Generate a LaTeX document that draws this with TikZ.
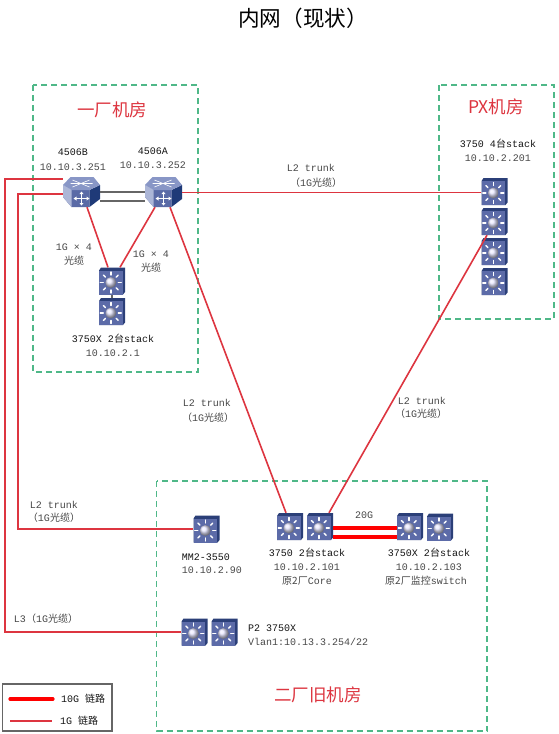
\documentclass[tikz,border=0pt]{standalone}
\usepackage{fontspec}
\setmainfont{Liberation Mono}
\newfontfamily\cjk{Noto Sans CJK SC}
\newcommand{\zh}[1]{{\cjk #1}}
\definecolor{boxgreen}{HTML}{4FB888}
\definecolor{linkred}{HTML}{DD3540}
\definecolor{labelgrey}{HTML}{484848}
\definecolor{labeldark}{HTML}{151515}
\definecolor{swface}{HTML}{5C6BA8}
\definecolor{swdark}{HTML}{2B3F78}
\definecolor{chtop}{HTML}{8896C6}
\definecolor{chfront}{HTML}{5A6AA6}
\definecolor{chside}{HTML}{1F3A78}
\newcommand{\swdraw}{%
  \begin{scope}[shift={(path picture bounding box.center)}]
    \fill[swdark] (-13,-10.5) -- (-11,-13.5) -- (13,-13.5) -- (13,11) -- (11,13.5) -- (-13,13.5) -- cycle;
    \fill[swface] (-13,-10.5) rectangle (10.5,13.5);
    \foreach \a in {0,45,...,315}{
      \draw[white,line width=1.4pt,line cap=round] ({-1.2+7.5*cos(\a)},{1.5+7.5*sin(\a)}) -- ({-1.2+10.5*cos(\a)},{1.5+10.5*sin(\a)});
    }
    \shade[ball color=blue!10!white] (-1.2,1.5) circle (5.5);
  \end{scope}}
\newcommand{\chdraw}{%
  \begin{scope}[shift={(path picture bounding box.center)}]
    \fill[chfront] (-18.5,-7) -- (-18.5,5) -- (-10,15) -- (8,15) -- (8,-2) -- (-10,-2) -- cycle;
    \fill[chside] (8,-2) -- (18.5,-7) -- (18.5,7) -- (8,15) -- cycle;
    \fill[chtop] (-11,-15) -- (12,-15) -- (18.5,-7) -- (8,-2) -- (-10,-2) -- (-18.5,-7) -- cycle;
    \fill[chtop!70!white] (-18.5,-7) -- (-10,-2) -- (-10,15) -- (-18.5,5) -- cycle;
    \draw[white,line width=.6pt] (-9,-12) -- (8,-5) (8,-12) -- (-9,-5) (-11,-8.5) -- (11,-8.5);
    \draw[white,line width=1.1pt] (-6,6.5) -- (6,6.5) (0,1) -- (0,12);
    \fill[white] (-8,6.5) -- (-5,4.5) -- (-5,8.5) -- cycle (8,6.5) -- (5,4.5) -- (5,8.5) -- cycle
      (0,-.5) -- (-2,2) -- (2,2) -- cycle (0,13.5) -- (-2,11) -- (2,11) -- cycle;
  \end{scope}}
\tikzset{
  x=1pt,y=-1pt,
  swbox/.style={inner sep=0pt,minimum width=26pt,minimum height=27pt,path picture={\swdraw}},
  chassis/.style={inner sep=0pt,minimum width=37pt,minimum height=30pt,path picture={\chdraw}},
  room/.style={draw=boxgreen,line width=1.4pt,dash pattern=on 6pt off 4pt,fill=none},
  redlink/.style={draw=linkred,line width=1.6pt},
  fatlink/.style={draw=red,line width=3.2pt},
  greylink/.style={draw=black!60,line width=1.2pt},
  lab/.style={font=\fontsize{10}{11}\selectfont,text=labelgrey,inner sep=0pt},
  labd/.style={font=\fontsize{10}{11}\selectfont,text=labeldark,inner sep=0pt},
  roomlab/.style={font=\fontsize{17.5}{19}\selectfont,text=linkred,inner sep=0pt},
}
\begin{document}
\begin{tikzpicture}
\useasboundingbox (0,0) rectangle (558,734);
\fill[white] (0,0) rectangle (558,734);
% rooms
\draw[room] (33,85) rectangle (198,372);
\draw[room] (439,85) rectangle (554,319);
\draw[room] (156.5,481) rectangle (487,731);
% devices
\node[chassis] (b) at (81.5,192) {};
\node[chassis] (a) at (163.5,192) {};
\node[swbox] (s1) at (112,281) {};
\node[swbox] (s2) at (112,311.5) {};
\node[swbox] (px1) at (494.5,191.5) {};
\node[swbox] (px2) at (494.5,221.5) {};
\node[swbox] (px3) at (494.5,251.5) {};
\node[swbox] (px4) at (494.5,281.5) {};
\node[swbox] (c1) at (290,526.5) {};
\node[swbox] (c2) at (320,526.5) {};
\node[swbox] (t1) at (410,526.5) {};
\node[swbox] (t2) at (440,527) {};
\node[swbox] (m) at (206.5,529) {};
\node[swbox] (p1) at (194.5,632) {};
\node[swbox] (p2) at (224.5,632) {};
% free corners
\coordinate (cornerA) at (5,632);
\coordinate (cornerB) at (18,529);
% links
\draw[greylink] (b.east) -- (a.west);
\draw[greylink] ([yshift=-9pt]b.east) -- ([yshift=-9pt]a.west);
\draw[greylink] (s1.south) -- (s2.north);
\draw[redlink] ([yshift=13pt]b.west) -| (cornerA) -- (p1.west);
\draw[redlink] ([yshift=-2pt]b.west) -| (cornerB) -- (m.west);
\draw[redlink] ([xshift=5.5pt]b.south) -- ([xshift=-4pt]s1.north);
\draw[redlink] ([xshift=-8.5pt]a.south) -- ([xshift=8pt]s1.north);
\draw[redlink] ([xshift=6.5pt]a.south) -- ([xshift=-4pt]c1.north);
\draw[redlink] ([yshift=-.5pt]a.east) -- ([yshift=-1pt]px1.west);
\draw[redlink] ([xshift=9pt]c2.north) -- ([xshift=-7.5pt]px2.south);
\draw[fatlink] ([yshift=-1.5pt]c2.east) -- ([yshift=-1.5pt]t1.west);
\draw[fatlink] ([yshift=-10.5pt]c2.east) -- ([yshift=-10.5pt]t1.west);
% title and rooms
\node[font=\fontsize{21.6}{24}\selectfont,text=black,inner sep=0pt] (title) at (303,18) {\zh{内网（现状）}};
\node[roomlab] (r1) at (112,110) {\zh{一厂机房}};
\node[roomlab] (r2) at (496,107) {\zh{PX机房}};
\node[roomlab] (r3) at (318,695) {\zh{二厂旧机房}};
% device labels
\node[labd] (l1) at (73,152) {4506B};
\node[lab] (l2) at (73,167) {10.10.3.251};
\node[labd] (l3) at (153,151) {4506A};
\node[lab] (l4) at (153,165) {10.10.3.252};
\node[lab] (l5) at (74,247) {1G × 4};
\node[lab] (l6) at (74,261) {\zh{光缆}};
\node[lab] (l7) at (151,254) {1G × 4};
\node[lab] (l8) at (151,268) {\zh{光缆}};
\node[labd] (l9) at (113,339) {3750X 2\zh{台}stack};
\node[lab] (l10) at (113,353) {10.10.2.1};
\node[labd] (l11) at (498,144) {3750 4\zh{台}stack};
\node[lab] (l12) at (498,158) {10.10.2.201};
\node[lab] (l13) at (311,168) {L2 trunk};
\node[lab] (l14) at (316,183) {\zh{（}1G\zh{光缆）}};
\node[lab] (l15) at (207,403) {L2 trunk};
\node[lab] (l16) at (208,418) {\zh{（}1G\zh{光缆）}};
\node[lab] (l17) at (422,401) {L2 trunk};
\node[lab] (l18) at (421,414) {\zh{（}1G\zh{光缆）}};
\node[lab] (l19) at (54,505) {L2 trunk};
\node[lab] (l20) at (54,518) {\zh{（}1G\zh{光缆）}};
\node[lab] (l21) at (46,619) {L3\zh{（}1G\zh{光缆）}};
\node[labd] (l22) at (206,557) {MM2-3550};
\node[lab] (l23) at (212,570) {10.10.2.90};
\node[lab] (l24) at (364,515) {20G};
\node[labd] (l25) at (307,553) {3750 2\zh{台}stack};
\node[lab] (l26) at (307,567) {10.10.2.101};
\node[lab] (l27) at (307,581) {\zh{原2厂}Core};
\node[labd] (l28) at (429,553) {3750X 2\zh{台}stack};
\node[lab] (l29) at (429,567) {10.10.2.103};
\node[lab] (l30) at (426,581) {\zh{原2厂监控}switch};
\node[labd,anchor=west] (l31) at (248,628) {P2 3750X};
\node[lab,anchor=west] (l32) at (248,642) {Vlan1:10.13.3.254/22};
% legend
\draw[draw=black!60,line width=1.2pt] (2.5,684) rectangle (112,731);
\coordinate (la) at (10,699);
\coordinate (lb) at (53,699);
\coordinate (lc) at (10,721);
\coordinate (ld) at (52,721);
\draw[fatlink,line cap=round] (la) -- (lb);
\draw[redlink] (lc) -- (ld);
\node[labd,anchor=west] (l33) at (61,699) {10G \zh{链路}};
\node[labd,anchor=west] (l34) at (60,721) {1G \zh{链路}};
\end{tikzpicture}
\end{document}
